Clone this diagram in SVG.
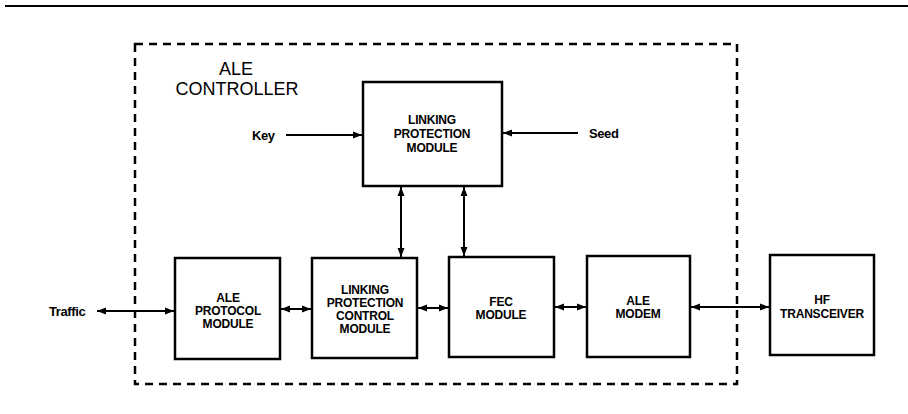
<svg xmlns="http://www.w3.org/2000/svg" width="908" height="414" viewBox="0 0 908 414">
<style>
.box{fill:#fff;stroke:#000;stroke-width:2.5}
.lbl{font-family:"Liberation Sans",Arial,sans-serif;font-weight:bold;font-size:12px;text-anchor:middle;fill:#000;letter-spacing:-0.2px}
.ext{font-family:"Liberation Sans",Arial,sans-serif;font-weight:bold;font-size:13px;fill:#000;letter-spacing:-0.4px}
.ttl{font-family:"Liberation Sans",Arial,sans-serif;font-size:18px;text-anchor:middle;fill:#000}
.conn{stroke:#000;stroke-width:2;fill:none}
</style>
<defs>
<marker id="ah" markerUnits="userSpaceOnUse" markerWidth="10" markerHeight="8" refX="9" refY="4" orient="auto-start-reverse">
<path d="M0,0.5 L9,4 L0,7.5 Z" fill="#000"/>
</marker>
</defs>
<line x1="5" y1="6" x2="908" y2="6" stroke="#000" stroke-width="2.2"/>
<rect x="135" y="44" width="602" height="340" fill="none" stroke="#000" stroke-width="2.5" stroke-dasharray="8,6"/>
<text class="ttl" x="236" y="75">ALE</text>
<text class="ttl" x="237" y="95">CONTROLLER</text>
<g id="lp-module">
<rect class="box" x="363" y="82" width="139" height="104"/>
<text class="lbl" x="432" y="124">LINKING</text>
<text class="lbl" x="432" y="138">PROTECTION</text>
<text class="lbl" x="432" y="152">MODULE</text>
</g>
<g id="ale-protocol">
<rect class="box" x="175" y="258" width="105" height="101"/>
<text class="lbl" x="228" y="302">ALE</text>
<text class="lbl" x="228" y="315">PROTOCOL</text>
<text class="lbl" x="228" y="328">MODULE</text>
</g>
<g id="lp-control">
<rect class="box" x="312" y="258" width="105" height="100"/>
<text class="lbl" x="365" y="294">LINKING</text>
<text class="lbl" x="365" y="307">PROTECTION</text>
<text class="lbl" x="365" y="320">CONTROL</text>
<text class="lbl" x="365" y="333">MODULE</text>
</g>
<g id="fec">
<rect class="box" x="449" y="257" width="105" height="100"/>
<text class="lbl" x="501" y="306">FEC</text>
<text class="lbl" x="501" y="319">MODULE</text>
</g>
<g id="ale-modem">
<rect class="box" x="587" y="256" width="103" height="101"/>
<text class="lbl" x="638" y="305">ALE</text>
<text class="lbl" x="638" y="318">MODEM</text>
</g>
<g id="hf">
<rect class="box" x="770" y="255" width="104" height="100"/>
<text class="lbl" x="822" y="304">HF</text>
<text class="lbl" x="822" y="318">TRANSCEIVER</text>
</g>
<g id="ext-labels">
<text class="ext" x="252" y="140">Key</text>
<text class="ext" x="589" y="138">Seed</text>
<text class="ext" x="49" y="316">Traffic</text>
</g>
<g id="connectors">
<line class="conn" x1="286" y1="135" x2="362" y2="135" marker-end="url(#ah)"/>
<line class="conn" x1="578" y1="133" x2="503" y2="133" marker-end="url(#ah)"/>
<line class="conn" x1="401" y1="187" x2="401" y2="257" marker-start="url(#ah)" marker-end="url(#ah)"/>
<line class="conn" x1="464" y1="187" x2="464" y2="256" marker-start="url(#ah)" marker-end="url(#ah)"/>
<line class="conn" x1="97" y1="311" x2="174" y2="311" marker-start="url(#ah)" marker-end="url(#ah)"/>
<line class="conn" x1="281" y1="309" x2="311" y2="309" marker-start="url(#ah)" marker-end="url(#ah)"/>
<line class="conn" x1="418" y1="308" x2="448" y2="308" marker-start="url(#ah)" marker-end="url(#ah)"/>
<line class="conn" x1="555" y1="307" x2="586" y2="307" marker-start="url(#ah)" marker-end="url(#ah)"/>
<line class="conn" x1="691" y1="307" x2="769" y2="307" marker-start="url(#ah)" marker-end="url(#ah)"/>
</g>
</svg>
